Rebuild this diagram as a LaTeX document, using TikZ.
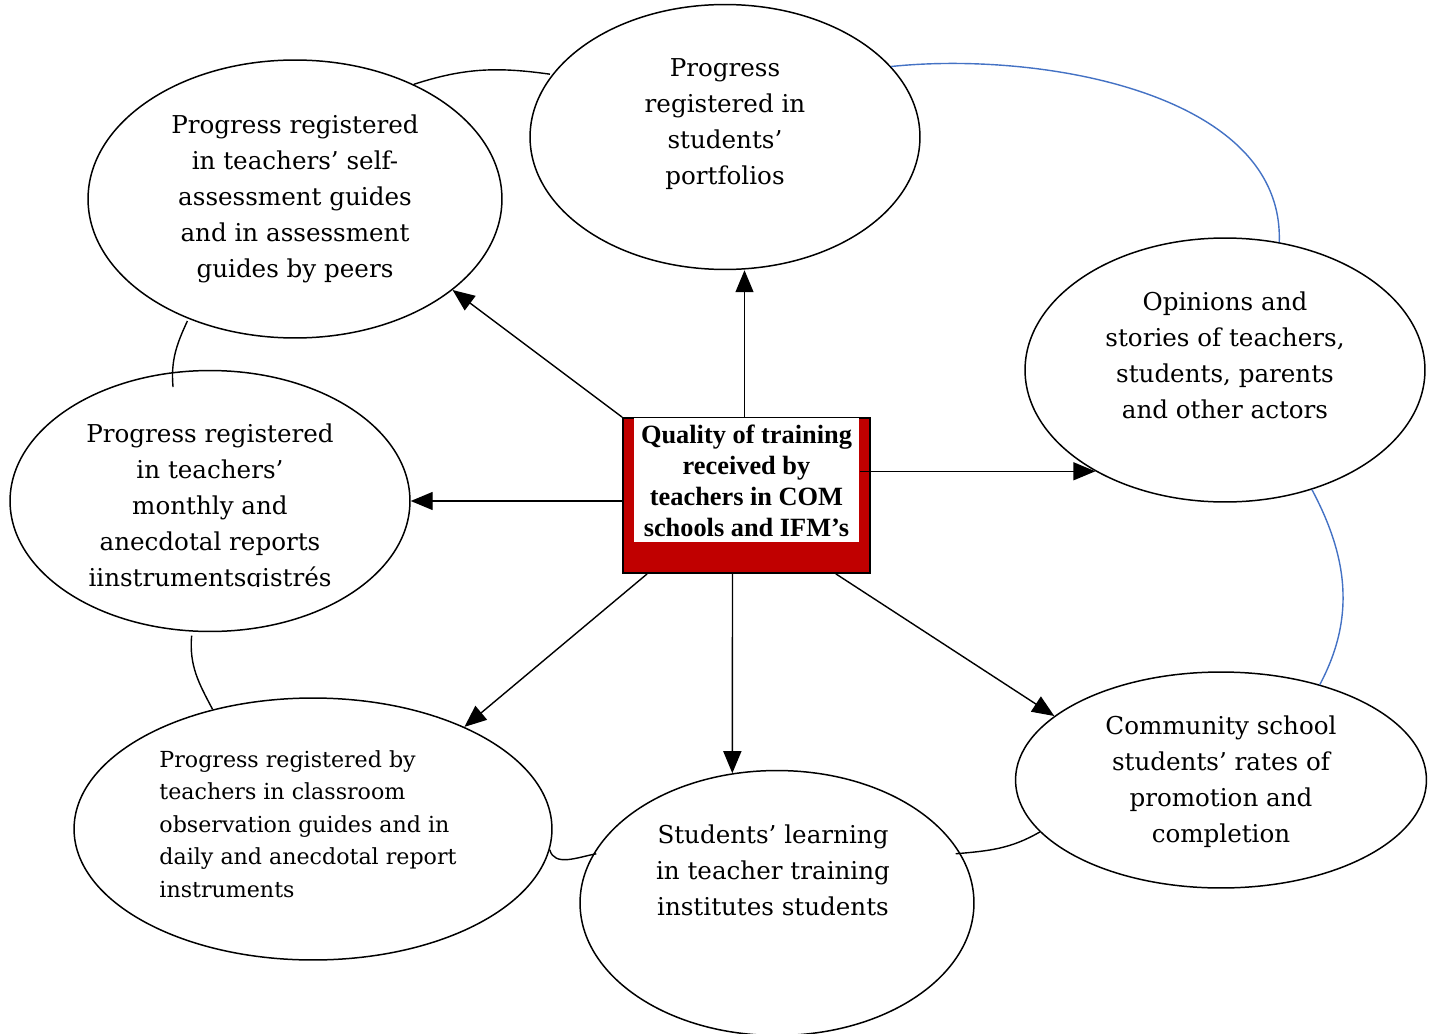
\documentclass[tikz,border=0pt]{standalone}
\usepackage{fontspec}
\setmainfont{DejaVu Serif}
\newfontfamily\boxfont{Liberation Serif}
\usetikzlibrary{positioning, arrows.meta, shapes.geometric}
\definecolor{linkblue}{RGB}{68,114,196}
\definecolor{boxred}{RGB}{192,0,0}
\begin{document}
\begin{tikzpicture}[
    x=0.02cm, y=-0.02cm,
    oval/.style={ellipse, draw=black, line width=0.85pt, inner sep=0pt},
    txt/.style={align=center, inner sep=0pt, font=\fontsize{14}{20.5}\selectfont},
    arrow/.style={-{Triangle[length=0.44cm, width=0.36cm]}, line width=0.8pt},
    link/.style={line width=0.8pt},
    bluelink/.style={link, draw=linkblue}
]
    \useasboundingbox (0,0) rectangle (1437,1034);

    % Ellipses
    \node[oval, minimum width=8.28cm, minimum height=5.56cm] (tl) at (295,199) {};
    \node[oval, minimum width=7.8cm, minimum height=5.3cm] (tp) at (725,137) {};
    \node[oval, minimum width=8cm, minimum height=5.28cm] (rt) at (1225,370) {};
    \node[oval, minimum width=8cm, minimum height=5.22cm] (lf) at (210,501) {};
    \node[oval, minimum width=9.56cm, minimum height=5.24cm] (bl) at (313,829) {};
    \node[oval, minimum width=7.88cm, minimum height=5.3cm] (bt) at (777,903) {};
    \node[oval, minimum width=8.22cm, minimum height=4.32cm] (br) at (1221,780) {};

    % Texts
    \node[txt] (tl-text) at (295,199) {Progress registered\\in teachers’ self-\\assessment guides\\and in assessment\\guides by peers};
    \node[txt] (tp-text) at (725,124) {Progress\\registered in\\students’\\portfolios};
    \node[txt] (rt-text) at (1225,355) {Opinions and\\stories of teachers,\\students, parents\\and other actors};
    \begin{scope}
        \clip (0,0) rectangle (1437,586);
        \node[txt] (lf-text) at (210,508) {Progress registered\\in teachers’\\monthly and\\anecdotal reports\\iinstrumentsgistrés};
    \end{scope}
    \node[txt, align=left, font=\fontsize{12.6}{18.5}\selectfont] (bl-text) at (308,824) {Progress registered by\\teachers in classroom\\observation guides and in\\daily and anecdotal report\\instruments};
    \node[txt] (bt-text) at (773,870) {Students’ learning\\in teacher training\\institutes students};
    \node[txt] (br-text) at (1221,782) {Community school\\students’ rates of\\promotion and\\completion};

    % Centre box
    \node[draw=black, fill=boxred, line width=1pt, minimum width=4.94cm, minimum height=3.1cm] (box) at (746.5,495.5) {};
    \node[fill=white, minimum width=4.52cm, minimum height=2.48cm, align=center, inner sep=0pt,
          font=\boxfont\bfseries\fontsize{15}{17.6}\selectfont, below=0.02cm of box.north] (box-text)
          {Quality of training\\received by\\teachers in COM\\schools and IFM’s};

    % Arrows
    \draw[arrow] (box.north west) -- (tl.-30);
    \draw[arrow] ([xshift=-0.04cm]box.north) -- ([xshift=-0.04cm]box.north |- tp.south);
    \draw[arrow] (box-text.east |- rt.218) -- (rt.218);
    \draw[arrow] (box.west |- lf.east) -- (lf.east);
    \draw[arrow] ([xshift=0.5cm]box.south west) -- (bl.34);
    \draw[arrow] ([xshift=-0.28cm]box.south) -- (bt.109);
    \draw[arrow] ([xshift=-0.7cm]box.south east) -- (br.159);

    % Links between ellipses
    \draw[link] (tl.44) to[out=18, in=172] ([xshift=-0.05cm]tp.160);
    \draw[bluelink] (tp.23) to[out=6, in=88, looseness=0.9] (rt.67);
    \draw[bluelink] (rt.-54) to[out=-62, in=62] (br.44);
    \draw[link] (br.196) to[out=210, in=5] ([xshift=-0.1cm]bt.15);
    \draw[link] (bl.-5) to[out=-75, in=190] ([xshift=0.06cm]bt.165);
    \draw[link] ([yshift=-0.08cm]lf.-98) to[out=-95, in=118] (bl.130);
    \draw[link] ([yshift=-0.05cm]tl.-132) to[out=-115, in=95] ([yshift=-0.3cm]lf.106);
\end{tikzpicture}
\end{document}
